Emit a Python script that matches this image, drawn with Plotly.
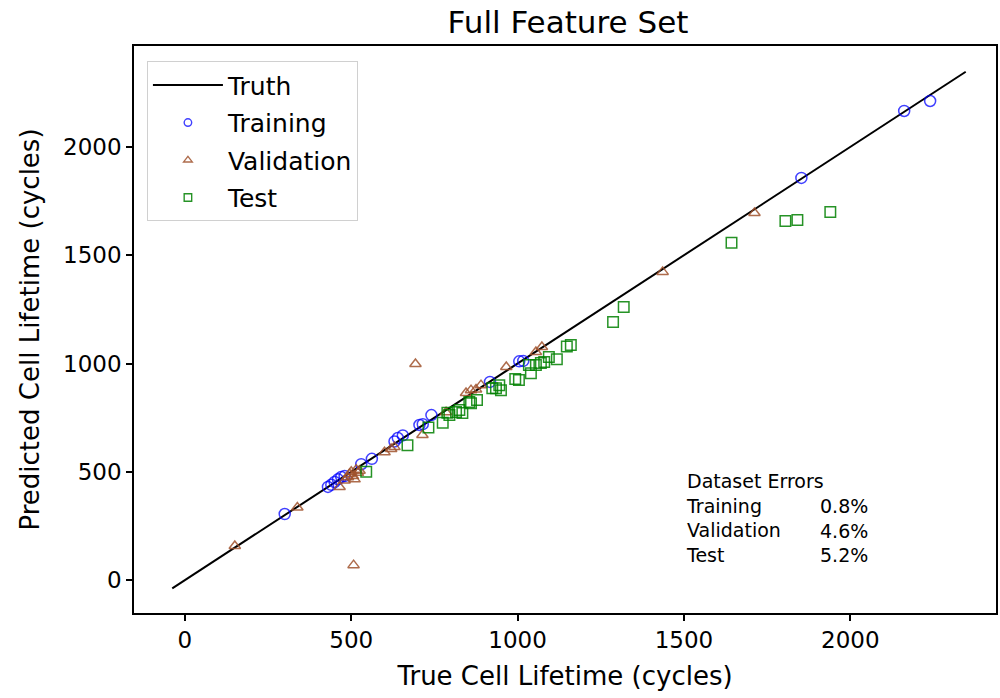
import plotly.graph_objects as go

# ---- data ----
train_true = [300, 430, 440, 450, 460, 470, 480, 530, 562, 630, 640, 655, 705, 715, 741, 917, 1005, 1017, 1853, 2162, 2240]
train_pred = [305, 430, 440, 453, 465, 476, 480, 535, 560, 640, 656, 668, 716, 720, 762, 915, 1010, 1012, 1857, 2166, 2212]

val_true = [150, 338, 465, 480, 490, 495, 500, 505, 510, 515, 520, 525, 507, 600, 620, 630, 693, 714, 785, 845, 860, 875, 890, 966, 1055, 1073, 1436, 1712]
val_pred = [157, 335, 430, 460, 475, 490, 500, 480, 465, 510, 495, 505, 69, 590, 605, 614, 998, 670, 775, 864, 877, 880, 900, 984, 1053, 1076, 1423, 1695]

test_true = [545, 669, 732, 775, 789, 795, 815, 825, 834, 855, 860, 878, 924, 935, 945, 950, 993, 1004, 1034, 1040, 1055, 1070, 1080, 1094, 1118, 1148, 1160, 1287, 1319, 1643, 1805, 1841, 1940]
test_pred = [500, 623, 705, 727, 773, 762, 776, 785, 771, 822, 817, 831, 886, 886, 900, 877, 928, 924, 993, 955, 993, 1002, 1007, 1030, 1020, 1078, 1085, 1192, 1261, 1557, 1658, 1663, 1700]

truth_x = [-38, 2347]

err_title = "Dataset Errors"
err_labels = ["Training", "Validation", "Test"]
err_values = ["0.8%", "4.6%", "5.2%"]

tick_vals = [0, 500, 1000, 1500, 2000]

FONT = "DejaVu Sans"
BLUE = "rgba(0,0,255,0.75)"
BROWN = "rgba(160,82,45,0.85)"
GREEN = "rgba(0,128,0,0.85)"

fig = go.Figure()

fig.add_trace(go.Scatter(x=truth_x, y=truth_x, mode="lines", name="Truth", legendgroup="truth",
                         line=dict(color="black", width=2)))

series = [
    ("Training", train_true, train_pred, "circle-open", BLUE, 11),
    ("Validation", val_true, val_pred, "triangle-up-open", BROWN, 10),
    ("Test", test_true, test_pred, "square-open", GREEN, 10.5),
]
for name, xs, ys, sym, col, sz in series:
    fig.add_trace(go.Scatter(x=xs, y=ys, mode="markers", name=name, showlegend=False,
                             marker=dict(symbol=sym, size=sz, color=col,
                                         line=dict(color=col, width=1.5))))
# legend-only entries with smaller symbols
for name, xs, ys, sym, col, sz in series:
    fig.add_trace(go.Scatter(x=[None], y=[None], mode="markers", name=name, legendgroup=name,
                             marker=dict(symbol=sym, size=7.5, color=col,
                                         line=dict(color=col, width=1.4))))

# error text block: left column (title + labels), right column (values)
fig.add_annotation(x=1500, y=55, xref="x", yref="y",
                   text="<br>".join([err_title] + err_labels), showarrow=False,
                   xanchor="left", yanchor="bottom", align="left",
                   font=dict(family=FONT, size=19, color="black"))
fig.add_annotation(x=2058, y=55, xref="x", yref="y",
                   text="<br>".join(err_values), showarrow=False,
                   xanchor="right", yanchor="bottom", align="right",
                   font=dict(family=FONT, size=19, color="black"))

axis_common = dict(showline=True, linecolor="black", linewidth=1.5, mirror=True,
                   ticks="outside", ticklen=6, tickwidth=1.5, tickcolor="black",
                   showgrid=False, zeroline=False,
                   tickfont=dict(family=FONT, size=23, color="black"),
                   tickvals=tick_vals)

fig.update_layout(
    width=1000, height=698,
    margin=dict(l=134, r=2, t=46, b=85),
    paper_bgcolor="white", plot_bgcolor="white",
    title=dict(text="Full Feature Set", x=0.568, xanchor="center", y=0.968, yanchor="middle",
               yref="container", font=dict(family=FONT, size=31, color="black")),
    xaxis=dict(range=[-153, 2438],
               title=dict(text="True Cell Lifetime (cycles)", standoff=14,
                          font=dict(family=FONT, size=26, color="black")),
               **axis_common),
    yaxis=dict(range=[-152, 2466],
               title=dict(text="Predicted Cell Lifetime (cycles)", standoff=16,
                          font=dict(family=FONT, size=26, color="black")),
               **axis_common),
    legend=dict(x=0.015, y=0.973, xanchor="left", yanchor="top",
                bgcolor="white", bordercolor="#d0d0d0", borderwidth=1,
                font=dict(family=FONT, size=25, color="black"),
                itemwidth=70, traceorder="grouped", tracegroupgap=2),
    showlegend=True,
)

fig.write_html("out.html")
